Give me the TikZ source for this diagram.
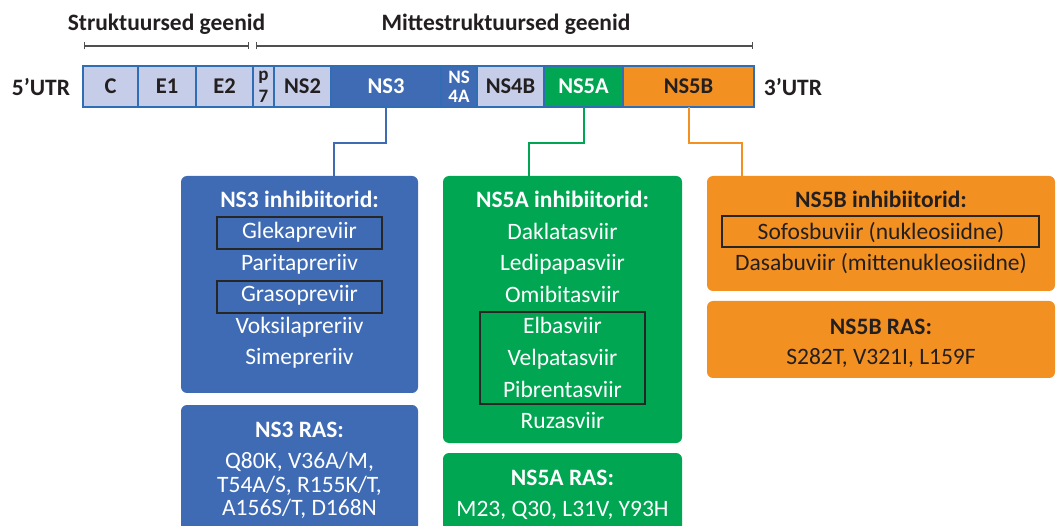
\documentclass[tikz,border=0pt]{standalone}
\usepackage{fontspec}
\setmainfont{Carlito}
\usetikzlibrary{arrows.meta}

\begin{document}
\begin{tikzpicture}[x=1pt,y=-1pt,thick,
    seg/.style={draw=segline,line width=1.2pt,inner sep=0pt,outer sep=0pt,minimum height=41pt,font=\fontsize{22.5}{26}\selectfont\bfseries},
    small/.style={inner sep=0pt,text height=12pt,text depth=0pt,font=\fontsize{19}{21}\selectfont\bfseries},
    panel/.style={rounded corners=6pt,inner sep=0pt,outer sep=0pt},
    txt/.style={inner sep=0pt,text height=15pt,text depth=0pt,font=\fontsize{23.5}{28}\selectfont},
    hd/.style={txt,font=\fontsize{23.5}{28}\selectfont\bfseries},
    frame/.style={draw=framec,line width=1.3pt},
    link/.style={line width=2pt},
    span/.style={draw=spanc,line width=1.5pt,{Bar[width=7pt,line width=1.2pt]}-{Bar[width=7pt,line width=1.2pt]}}]
    \definecolor{segl}{HTML}{C6CDE8}
    \definecolor{segline}{HTML}{2F6DB5}
    \definecolor{blued}{HTML}{3F6BB5}
    \definecolor{greenc}{HTML}{00A651}
    \definecolor{orangec}{HTML}{F39022}
    \definecolor{ink}{HTML}{231F20}
    \definecolor{framec}{HTML}{262626}
    \definecolor{spanc}{HTML}{505050}
    \useasboundingbox (0,0) rectangle (1060,526);

    \node[hd,text=ink] (struct) at (166.5,23) {Struktuursed geenid};
    \node[hd,text=ink] (nonstruct) at (506,23) {Mittestruktuursed geenid};
    \path (84,46) coordinate (s1) (249,46) coordinate (s2) (256,46) coordinate (m1) (753,46) coordinate (m2);
    \draw[span] (s1) -- (s2);
    \draw[span] (m1) -- (m2);

    \foreach \n/\a/\b/\f/\c/\t in {C/83/138/segl/ink/C, E1/138/196/segl/ink/E1, E2/196/253/segl/ink/E2,
        p7/253/274/segl/ink/{}, NS2/274/331/segl/ink/NS2, NS3/331/441/blued/white/NS3, NS4A/441/477/blued/white/{},
        NS4B/477/544/segl/ink/NS4B, NS5A/544/623/greenc/white/NS5A, NS5B/623/754/orangec/ink/NS5B} {
      \pgfmathsetmacro\w{\b-\a}
      \pgfmathsetmacro\m{(\a+\b)/2}
      \node[seg,fill=\f,text=\c,minimum width=\w pt] (\n) at (\m,86.5) {\t};
    }
    \node[small,text=ink] (p7a) at (263.5,75) {p};
    \node[small,text=ink] (p7b) at (263.5,97) {7};
    \node[small,text=white] (ns4aa) at (459,77.5) {NS};
    \node[small,text=white] (ns4ab) at (459,97) {4A};
    \node[hd,text=ink] (utr5) at (41,88) {5’UTR};
    \node[hd,text=ink] (utr3) at (793,88) {3’UTR};

    \node[panel,fill=blued,minimum width=237pt,minimum height=217pt] (ns3inh) at (299.5,284.5) {};
    \node[panel,fill=blued,minimum width=237pt,minimum height=127pt] (ns3ras) at (299.5,468.5) {};
    \node[panel,fill=greenc,minimum width=239pt,minimum height=267pt] (ns5ainh) at (562.5,309.5) {};
    \node[panel,fill=greenc,minimum width=239pt,minimum height=79pt] (ns5aras) at (562.5,492.5) {};
    \node[panel,fill=orangec,minimum width=348pt,minimum height=115pt] (ns5binh) at (881,233.5) {};
    \node[panel,fill=orangec,minimum width=348pt,minimum height=77pt] (ns5bras) at (881,339.5) {};

    \draw[link,blued] (NS3.south) -- ++(0,36) -| ([xshift=34pt]ns3inh.north);
    \draw[link,greenc] (NS5A.south) -- ++(0,36) -| ([xshift=-34pt]ns5ainh.north);
    \draw[link,orangec] (NS5B.south) -- ++(0,36) -| ([xshift=-139pt]ns5binh.north);

    \node[hd,text=white] (ns3t) at (299.5,200) {NS3 inhibiitorid:};
    \foreach \t [count=\i] in {Glekapreviir,Paritapreriiv,Grasopreviir,Voksilapreriiv,Simepreriiv}
      \node[txt,text=white] (ns3d\i) at (299.5,{231.5+31.5*(\i-1)}) {\t};
    \draw[frame] (217,217) rectangle (382,249);
    \draw[frame] (217,281) rectangle (382,313);
    \node[hd,text=white] (ns3rt) at (299.5,430) {NS3 RAS:};
    \node[txt,text=white] (ns3r1) at (299.5,461) {Q80K, V36A/M,};
    \node[txt,text=white] (ns3r2) at (299.5,484.5) {T54A/S, R155K/T,};
    \node[txt,text=white] (ns3r3) at (299.5,508) {A156S/T, D168N};

    \node[hd,text=white] (ns5at) at (562.5,200) {NS5A inhibiitorid:};
    \foreach \t [count=\i] in {Daklatasviir,Ledipapasviir,Omibitasviir,Elbasviir,Velpatasviir,Pibrentasviir,Ruzasviir}
      \node[txt,text=white] (ns5ad\i) at (562.5,{232+31.5*(\i-1)}) {\t};
    \draw[frame] (480,312) rectangle (645,404);
    \node[hd,text=white] (ns5art) at (562.5,478) {NS5A RAS:};
    \node[txt,text=white] (ns5ar1) at (562.5,509) {M23, Q30, L31V, Y93H};

    \node[hd,text=ink] (ns5bt) at (881,200) {NS5B inhibiitorid:};
    \node[txt,text=ink] (ns5bd1) at (881,232) {Sofosbuviir (nukleosiidne)};
    \node[txt,text=ink] (ns5bd2) at (881,263) {Dasabuviir (mittenukleosiidne)};
    \draw[frame] (722,216) rectangle (1039,247);
    \node[hd,text=ink] (ns5brt) at (881,327) {NS5B RAS:};
    \node[txt,text=ink] (ns5br1) at (881,357) {S282T, V321I, L159F};
\end{tikzpicture}
\end{document}
